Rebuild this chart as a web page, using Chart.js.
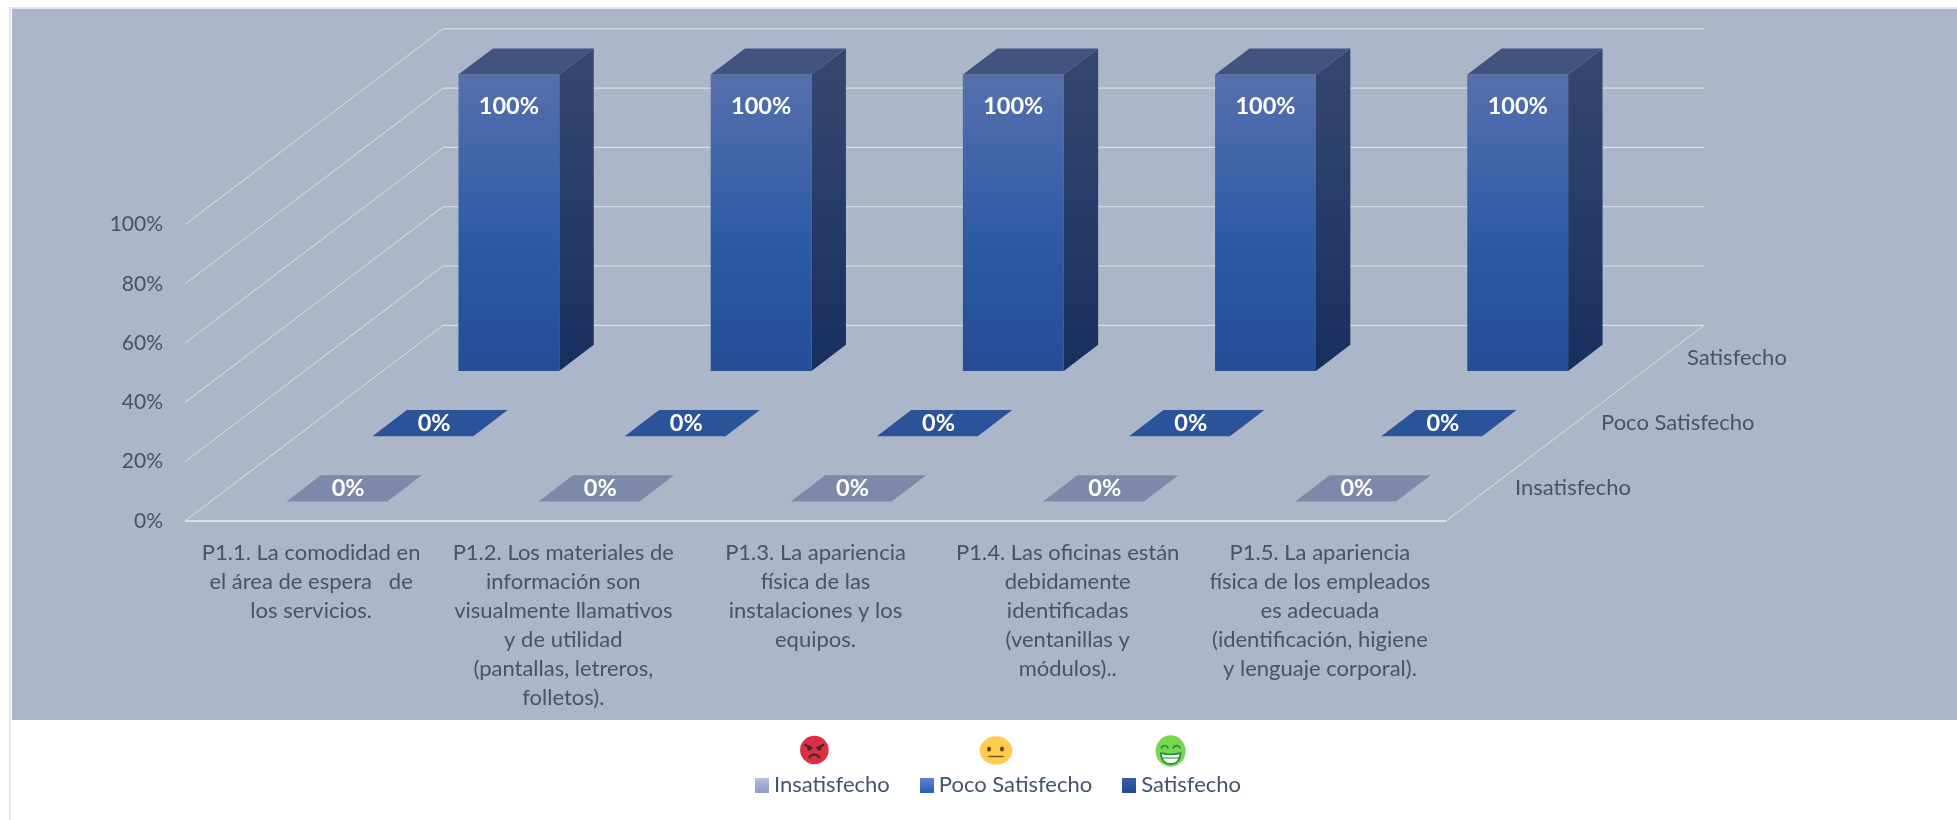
<!DOCTYPE html>
<html lang="es">
<head>
<meta charset="utf-8">
<title>Satisfacción</title>
<style>html,body{margin:0;padding:0;background:#fff}canvas{display:block}</style>
<script src="https://cdn.jsdelivr.net/npm/chart.js@4"></script>
</head>
<body>
<div style="width:1957px;height:820px"><canvas id="c" width="1957" height="820"></canvas></div>
<script>
const categories = [
  ["P1.1. La comodidad en","el área de espera   de","los servicios."],
  ["P1.2. Los materiales de","información son","visualmente llamativos","y de utilidad","(pantallas, letreros,","folletos)."],
  ["P1.3. La apariencia","física de las","instalaciones y los","equipos."],
  ["P1.4. Las oficinas están","debidamente","identificadas","(ventanillas y","módulos).."],
  ["P1.5. La apariencia","física de los empleados","es adecuada","(identificación, higiene","y lenguaje corporal)."]
];
const seriesNames = ["Insatisfecho","Poco Satisfecho","Satisfecho"];
const insatisfecho = [0,0,0,0,0];
const pocoSatisfecho = [0,0,0,0,0];
const satisfecho = [100,100,100,100,100];

const FONT = "Lato, Carlito, sans-serif";
const TEXT = "#44546A";
const GRID = "#DCDFE3";
const DEPTH_X = 258, DEPTH_Y = -195.7, BAR_DEPTH = 0.1333;

function project(chart, px, py, t){ return [px + DEPTH_X*t, py + DEPTH_Y*t]; }
function rowDepth(chart, i){
  const d = chart.scales.depth;
  return (d.bottom - d.getPixelForValue(i)) / d.height;
}
function poly(ctx, pts, fill){
  ctx.beginPath();
  pts.forEach((p,i)=> i?ctx.lineTo(p[0],p[1]):ctx.moveTo(p[0],p[1]));
  ctx.closePath();
  ctx.fillStyle = fill; ctx.fill();
}

class Bar3D extends Chart.BarController {
  static id = 'bar3d';
  draw(){
    const chart = this.chart, ctx = chart.ctx, ds = this.getDataset();
    const tc = rowDepth(chart, this.index);
    const t0 = tc - BAR_DEPTH/2, t1 = tc + BAR_DEPTH/2;
    this.getMeta().data.forEach((el, i)=>{
      const l = el.x - el.width/2, r = el.x + el.width/2, top = el.y, base = el.base;
      const fl = project(chart,l,top,t0), fr = project(chart,r,top,t0);
      const bl = project(chart,l,top,t1), br = project(chart,r,top,t1);
      const fbl = project(chart,l,base,t0), fbr = project(chart,r,base,t0), bbr = project(chart,r,base,t1);
      const value = ds.data[i];
      ctx.save();
      if (value > 0){
        const g = ctx.createLinearGradient(0,fl[1],0,fbl[1]);
        g.addColorStop(0,"#5670AB"); g.addColorStop(.42,"#3760A9"); g.addColorStop(.6,"#2C59A3"); g.addColorStop(1,"#244D96");
        poly(ctx,[fl,fr,fbr,fbl],g);
        const s = ctx.createLinearGradient(0,fr[1],0,fbr[1]);
        s.addColorStop(0,"#33466F"); s.addColorStop(1,"#172F5F");
        poly(ctx,[fr,br,bbr,fbr],s);
        poly(ctx,[fl,bl,br,fr],"#41537E");
      } else {
        poly(ctx,[fl,bl,br,fr],ds.backgroundColor);
      }
      ctx.fillStyle = "#fff";
      ctx.font = "bold 23.5px " + FONT;
      ctx.textAlign = "center"; ctx.textBaseline = "middle";
      const txt = value + "%";
      if (value > 0) ctx.fillText(txt, (fl[0]+fr[0])/2, fl[1] + 32);
      else ctx.fillText(txt, (fl[0]+br[0])/2 - 6, (fl[1]+bl[1])/2);
      ctx.restore();
    });
  }
}
Chart.register(Bar3D);

function swatch(top,bottom){
  const c = document.createElement('canvas'); c.width = 14; c.height = 15;
  const x = c.getContext('2d'), g = x.createLinearGradient(0,0,0,15);
  g.addColorStop(0,top); g.addColorStop(1,bottom);
  x.fillStyle = g; x.fillRect(0,0,14,15);
  return c;
}
const swatches = [swatch("#B4C0DF","#8E9DC6"),swatch("#5B85D2","#2F5FB5"),swatch("#3A5FA8","#234A90")];

const backdrop = {
  id:'backdrop',
  beforeDraw(chart){
    const ctx = chart.ctx; ctx.save();
    ctx.fillStyle = "#E3E6EA";
    ctx.fillRect(9,7,1948,2);
    ctx.fillRect(9,7,2,813);
    ctx.fillStyle = "#ABB6C8";
    ctx.fillRect(12,9,1945,711);
    ctx.restore();
  }
};

const walls = {
  id:'walls',
  beforeDatasetsDraw(chart){
    const ctx = chart.ctx, y = chart.scales.y, a = chart.chartArea;
    ctx.save();
    ctx.strokeStyle = GRID;
    y.ticks.forEach(tk=>{
      const py = y.getPixelForValue(tk.value);
      const b = project(chart,a.left,py,1), c = project(chart,a.right,py,1);
      ctx.lineWidth = 1;
      ctx.beginPath(); ctx.moveTo(a.left,py); ctx.lineTo(b[0],b[1]); ctx.stroke();
      ctx.lineWidth = 1.2;
      ctx.beginPath(); ctx.moveTo(b[0],b[1]); ctx.lineTo(c[0],c[1]); ctx.stroke();
    });
    const fr = [a.right,a.bottom], br = project(chart,a.right,a.bottom,1);
    ctx.lineWidth = 1;
    ctx.beginPath(); ctx.moveTo(fr[0],fr[1]); ctx.lineTo(br[0],br[1]); ctx.stroke();
    ctx.lineWidth = 2;
    ctx.beginPath(); ctx.moveTo(a.left,a.bottom); ctx.lineTo(fr[0],fr[1]); ctx.stroke();
    ctx.fillStyle = TEXT; ctx.font = "22px " + FONT;
    ctx.textAlign = "left"; ctx.textBaseline = "middle";
    chart.scales.depth.getLabels().forEach((name,i)=>{
      const p = project(chart,a.right,a.bottom,rowDepth(chart,i));
      ctx.fillText(name,p[0]+26,p[1]);
    });
    ctx.restore();
  }
};

function ell(ctx,cx,cy,rx,ry,fill){ ctx.beginPath(); ctx.ellipse(cx,cy,rx,ry,0,0,Math.PI*2); ctx.fillStyle=fill; ctx.fill(); }
const faces = {
  id:'faces',
  afterDraw(chart){
    const ctx = chart.ctx, hb = chart.legend.legendHitBoxes;
    if (!hb || hb.length<3) return;
    const cy = hb[0].top - 24;
    const cx = i => hb[i].left + hb[i].width/2;
    ctx.save(); ctx.lineCap = "round";
    // angry
    let x = cx(0)-11, y = cy;
    ell(ctx,x,y,14.3,14.3,"#DD2E44");
    ctx.strokeStyle = "#3A2A2E"; ctx.lineWidth = 2.2;
    ctx.beginPath(); ctx.moveTo(x-9,y-5); ctx.lineTo(x-3,y-2); ctx.moveTo(x+9,y-5); ctx.lineTo(x+3,y-2); ctx.stroke();
    ell(ctx,x-5,y-1.5,2,2.2,"#3A2A2E"); ell(ctx,x+5,y-1.5,2,2.2,"#3A2A2E");
    ctx.lineWidth = 2; ctx.beginPath(); ctx.arc(x,y+10,5.5,Math.PI*1.15,Math.PI*1.85); ctx.stroke();
    // neutral
    x = cx(1)-13; y = cy+.5;
    ell(ctx,x,y,16.3,14.3,"#FFCC4D");
    ell(ctx,x-7,y-1.5,2,2.6,"#664500"); ell(ctx,x+6,y-1.5,2,2.6,"#664500");
    ctx.strokeStyle = "#7A5A10"; ctx.lineWidth = 1.6;
    ctx.beginPath(); ctx.moveTo(x-7,y+6); ctx.lineTo(x+7,y+6); ctx.stroke();
    // grin
    x = cx(2)-14; y = cy+1;
    ell(ctx,x,y,15,15.7,"#77D84E");
    ctx.strokeStyle = "#1F8A46"; ctx.lineWidth = 1.6;
    ctx.beginPath(); ctx.arc(x-6,y-2,3.4,Math.PI*1.1,Math.PI*1.9); ctx.stroke();
    ctx.beginPath(); ctx.arc(x+6,y-2,3.4,Math.PI*1.1,Math.PI*1.9); ctx.stroke();
    ctx.beginPath(); ctx.moveTo(x-10,y+2); ctx.quadraticCurveTo(x,y+5,x+10,y+2); ctx.quadraticCurveTo(x+9,y+13,x,y+13); ctx.quadraticCurveTo(x-9,y+13,x-10,y+2);
    ctx.fillStyle = "#F2FFF2"; ctx.fill(); ctx.stroke();
    ctx.lineWidth = 1; ctx.beginPath(); ctx.moveTo(x-9,y+7); ctx.lineTo(x+9,y+7); ctx.stroke();
    ctx.restore();
  }
};

new Chart(document.getElementById('c'),{
  type:'bar3d',
  plugins:[backdrop,walls,faces],
  data:{
    labels:categories,
    datasets:[
      {label:seriesNames[0],data:insatisfecho,backgroundColor:"#7E88A9"},
      {label:seriesNames[1],data:pocoSatisfecho,backgroundColor:"#2B5399"},
      {label:seriesNames[2],data:satisfecho,backgroundColor:"#2C59A3"}
    ].map(d=>({...d,xAxisID:'x',yAxisID:'y',grouped:false,barPercentage:.4,categoryPercentage:1,clip:false}))
  },
  options:{
    responsive:false,
    animation:false,
    devicePixelRatio:1,
    layout:{padding:{left:45,top:224.6,right:0,bottom:14}},
    scales:{
      x:{
        type:'category',position:'bottom',
        grid:{display:false},border:{display:false},
        ticks:{color:TEXT,font:{family:FONT,size:22,lineHeight:1.318},padding:9,maxRotation:0,minRotation:0,autoSkip:false},
        afterFit(s){ s.height = 217; }
      },
      y:{
        type:'linear',position:'left',min:0,max:100,
        grid:{display:false,drawTicks:false},border:{display:false},
        ticks:{stepSize:20,color:TEXT,font:{family:FONT,size:21},padding:22,callback:v=>v+"%"},
        afterFit(s){ s.width = 140; }
      },
      depth:{
        type:'category',axis:'y',position:'right',reverse:true,offset:true,labels:seriesNames,
        grid:{display:false},border:{display:false},ticks:{display:false},
        afterFit(s){ s.width = 511; }
      }
    },
    plugins:{
      tooltip:{enabled:false},
      legend:{
        position:'bottom',
        labels:{
          usePointStyle:true,pointStyleWidth:2,boxHeight:15,padding:36,color:TEXT,
          font:{family:FONT,size:22},
          generateLabels(chart){
            return chart.data.datasets.map((d,i)=>({text:d.label,fillStyle:"#000",strokeStyle:"#000",lineWidth:0,pointStyle:swatches[i],datasetIndex:i,fontColor:TEXT}));
          }
        }
      }
    }
  }
});
</script>
</body>
</html>
